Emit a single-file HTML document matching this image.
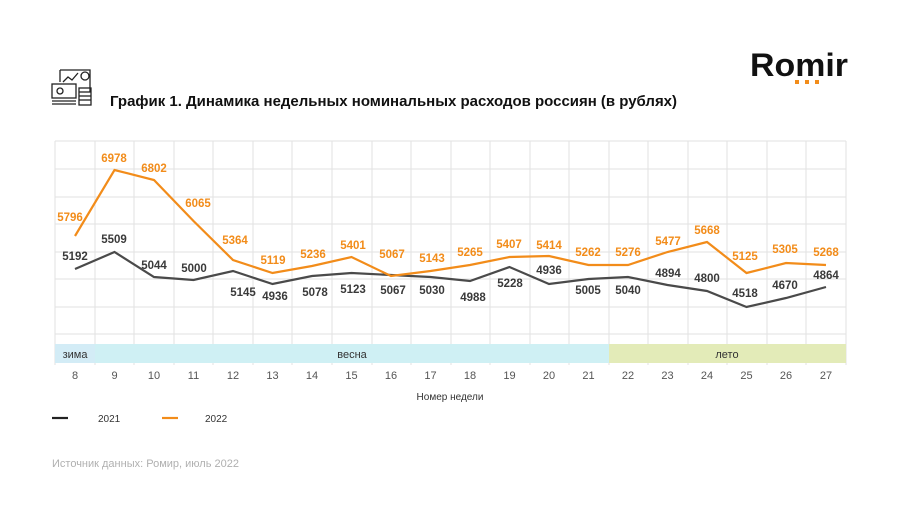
<!DOCTYPE html>
<html><head><meta charset="utf-8"><style>
body{margin:0;background:#fff;}
svg{display:block;font-family:"Liberation Sans",Arial,sans-serif;}
</style></head><body>
<svg width="900" height="506" viewBox="0 0 900 506">
<g fill="none" stroke="#222" stroke-width="1.3">
<path d="M60 70 h30 v22 M60 70 v12"/>
<polyline points="63,82 68,77 72,80 78,73"/>
<circle cx="85" cy="76" r="4"/>
<rect x="52" y="84" width="24" height="14"/>
<circle cx="60" cy="91" r="3"/>
<line x1="52" y1="101" x2="76" y2="101"/><line x1="52" y1="104" x2="76" y2="104"/>
<rect x="79" y="88" width="12" height="17"/>
<line x1="79" y1="92" x2="91" y2="92"/><line x1="79" y1="96" x2="91" y2="96"/><line x1="79" y1="100" x2="91" y2="100"/>
</g>
<text x="110" y="106" font-size="15" font-weight="bold" fill="#111" textLength="567" lengthAdjust="spacingAndGlyphs">График 1. Динамика недельных номинальных расходов россиян (в рублях)</text>
<text x="750" y="76" font-size="32" font-weight="bold" fill="#111" textLength="98" lengthAdjust="spacingAndGlyphs">Romir</text>
<rect x="795" y="80" width="4" height="4" fill="#f28c1a"/><rect x="805" y="80" width="4" height="4" fill="#f28c1a"/><rect x="815" y="80" width="4" height="4" fill="#f28c1a"/>
<g stroke="#e2e2e2" stroke-width="1">
<line x1="55" y1="141" x2="846" y2="141"/><line x1="55" y1="169" x2="846" y2="169"/><line x1="55" y1="197" x2="846" y2="197"/><line x1="55" y1="224" x2="846" y2="224"/><line x1="55" y1="252" x2="846" y2="252"/><line x1="55" y1="279" x2="846" y2="279"/><line x1="55" y1="307" x2="846" y2="307"/><line x1="55" y1="334" x2="846" y2="334"/>
<line x1="55" y1="141" x2="55" y2="365"/><line x1="95" y1="141" x2="95" y2="365"/><line x1="134" y1="141" x2="134" y2="365"/><line x1="174" y1="141" x2="174" y2="365"/><line x1="213" y1="141" x2="213" y2="365"/><line x1="253" y1="141" x2="253" y2="365"/><line x1="292" y1="141" x2="292" y2="365"/><line x1="332" y1="141" x2="332" y2="365"/><line x1="372" y1="141" x2="372" y2="365"/><line x1="411" y1="141" x2="411" y2="365"/><line x1="451" y1="141" x2="451" y2="365"/><line x1="490" y1="141" x2="490" y2="365"/><line x1="530" y1="141" x2="530" y2="365"/><line x1="569" y1="141" x2="569" y2="365"/><line x1="609" y1="141" x2="609" y2="365"/><line x1="648" y1="141" x2="648" y2="365"/><line x1="688" y1="141" x2="688" y2="365"/><line x1="727" y1="141" x2="727" y2="365"/><line x1="767" y1="141" x2="767" y2="365"/><line x1="806" y1="141" x2="806" y2="365"/><line x1="846" y1="141" x2="846" y2="365"/>
</g>
<rect x="55" y="344" width="40" height="19" fill="#d3ecf6"/>
<rect x="95" y="344" width="514" height="19" fill="#cff0f4"/>
<rect x="609" y="344" width="237" height="19" fill="#e3ebb8"/>
<g font-size="11" fill="#333" text-anchor="middle">
<text x="75" y="358">зима</text><text x="352" y="358">весна</text><text x="727" y="358">лето</text>
</g>
<polyline fill="none" stroke="#4a4a4a" stroke-width="2.2" points="75,269 114.5,252 154,277 193.5,280 233,271 272.5,284 312,276 351.5,273 391,275 430.5,277 470,281 509.5,267 549,284 588.5,279 628,277 667.5,285 707,291 746.5,307 786,298 826,287"/>
<polyline fill="none" stroke="#f28c1a" stroke-width="2.2" points="75,236 114.5,170 154,180 193.5,221 233,260 272.5,273 312,266 351.5,257 391,276 430.5,271 470,265 509.5,257 549,256 588.5,265 628,265 667.5,252 707,242 746.5,273 786,263 826,265"/>
<g font-size="11.5" font-weight="bold" fill="#f28c1a" text-anchor="middle">
<text x="70" y="221">5796</text><text x="114" y="162">6978</text><text x="154" y="172">6802</text><text x="198" y="207">6065</text><text x="235" y="244">5364</text><text x="273" y="264">5119</text><text x="313" y="258">5236</text><text x="353" y="249">5401</text><text x="392" y="258">5067</text><text x="432" y="262">5143</text><text x="470" y="256">5265</text><text x="509" y="248">5407</text><text x="549" y="249">5414</text><text x="588" y="256">5262</text><text x="628" y="256">5276</text><text x="668" y="245">5477</text><text x="707" y="234">5668</text><text x="745" y="260">5125</text><text x="785" y="253">5305</text><text x="826" y="256">5268</text>
</g>
<g font-size="11.5" font-weight="bold" fill="#3a3a3a" text-anchor="middle">
<text x="75" y="260">5192</text><text x="114" y="243">5509</text><text x="154" y="269">5044</text><text x="194" y="272">5000</text><text x="243" y="296">5145</text><text x="275" y="300">4936</text><text x="315" y="296">5078</text><text x="353" y="293">5123</text><text x="393" y="294">5067</text><text x="432" y="294">5030</text><text x="473" y="301">4988</text><text x="510" y="287">5228</text><text x="549" y="274">4936</text><text x="588" y="294">5005</text><text x="628" y="294">5040</text><text x="668" y="277">4894</text><text x="707" y="282">4800</text><text x="745" y="297">4518</text><text x="785" y="289">4670</text><text x="826" y="279">4864</text>
</g>
<g font-size="11" fill="#555" text-anchor="middle">
<text x="75" y="379">8</text><text x="114.5" y="379">9</text><text x="154" y="379">10</text><text x="193.5" y="379">11</text><text x="233" y="379">12</text><text x="272.5" y="379">13</text><text x="312" y="379">14</text><text x="351.5" y="379">15</text><text x="391" y="379">16</text><text x="430.5" y="379">17</text><text x="470" y="379">18</text><text x="509.5" y="379">19</text><text x="549" y="379">20</text><text x="588.5" y="379">21</text><text x="628" y="379">22</text><text x="667.5" y="379">23</text><text x="707" y="379">24</text><text x="746.5" y="379">25</text><text x="786" y="379">26</text><text x="826" y="379">27</text>
<text x="450" y="400" font-size="10" fill="#333">Номер недели</text>
</g>
<line x1="52" y1="418" x2="68" y2="418" stroke="#222" stroke-width="2.2"/>
<text x="98" y="422" font-size="10" fill="#333">2021</text>
<line x1="162" y1="418" x2="178" y2="418" stroke="#f28c1a" stroke-width="2.2"/>
<text x="205" y="422" font-size="10" fill="#333">2022</text>
<text x="52" y="467" font-size="11" fill="#b0b0b0">Источник данных: Ромир, июль 2022</text>
</svg>
</body></html>
